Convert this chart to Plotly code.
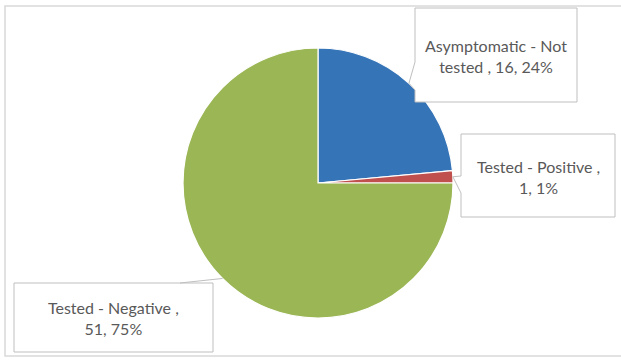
import math
import textwrap
import plotly.graph_objects as go

# Survey breakdown
labels = ["Asymptomatic - Not tested", "Tested - Positive", "Tested - Negative"]
values = [16, 1, 51]
colors = ["#3674B8", "#C0504D", "#9BB655"]

W, H = 621, 361
CX, CY, R = 318, 183, 135  # pie centre and radius in pixels


def px(x):
    return x / W


def py(y):
    return 1 - y / H


total = sum(values)
pcts = [round(100 * v / total) for v in values]
texts = ["<br>".join(textwrap.wrap(f"{l} , {v}, {p}%", 19))
         for l, v, p in zip(labels, values, pcts)]

# slice mid-angles (clockwise from 12 o'clock) -> callout tips on the rim
tips = []
acc = 0
for v in values:
    mid = (acc + v / 2) / total * 2 * math.pi
    tips.append((CX + R * math.sin(mid), CY - R * math.cos(mid)))
    acc += v

fig = go.Figure(go.Pie(
    labels=labels, values=values, sort=False, direction="clockwise",
    rotation=0, textinfo="none", hoverinfo="label+value+percent",
    marker=dict(colors=colors, line=dict(color="white", width=1.2)),
    domain=dict(x=[px(CX - R), px(CX + R)], y=[py(CY + R), py(CY - R)]),
    showlegend=False,
))

line = dict(color="#BFBFBF", width=1)


def path(pts):
    return "M " + " L ".join(f"{px(x)},{py(y)}" for x, y in pts) + " Z"


shapes = [
    # chart frame
    dict(type="rect", xref="paper", yref="paper", x0=px(5), x1=px(630),
         y0=py(356), y1=py(6), line=dict(color="#D9D9D9", width=1.5)),
]

# callout 1: box with notch pointing left
t = tips[0]
shapes.append(dict(type="path", xref="paper", yref="paper", line=line,
                   fillcolor="white",
                   path=path([(415, 8), (577, 8), (577, 102), (415, 102),
                              (415, 90), t, (415, 62)])))
# callout 2
t = tips[1]
shapes.append(dict(type="path", xref="paper", yref="paper", line=line,
                   fillcolor="white",
                   path=path([(461, 134), (615, 134), (615, 217), (461, 217),
                              (461, 193), t, (461, 176)])))
# callout 3: box with leader line from top edge
t = tips[2]
shapes.append(dict(type="rect", xref="paper", yref="paper", line=line,
                   fillcolor="white",
                   x0=px(14), x1=px(213), y0=py(352), y1=py(283)))
shapes.append(dict(type="path", xref="paper", yref="paper", line=line,
                   path="M " + f"{px(180)},{py(283)} L {px(t[0])},{py(t[1])}"))

font = dict(family="Lato, 'Open Sans', sans-serif", size=16, color="#595959")
centres = [(496, 56), (538, 177), (113, 318)]
annotations = [
    dict(x=px(x), y=py(y), xref="paper", yref="paper", text=txt,
         showarrow=False, font=font, align="center", xanchor="center",
         yanchor="middle")
    for (x, y), txt in zip(centres, texts)
]

fig.update_layout(
    width=W, height=H, margin=dict(l=0, r=0, t=0, b=0),
    paper_bgcolor="white", plot_bgcolor="white",
    shapes=shapes, annotations=annotations,
)

fig.write_html("out.html")
